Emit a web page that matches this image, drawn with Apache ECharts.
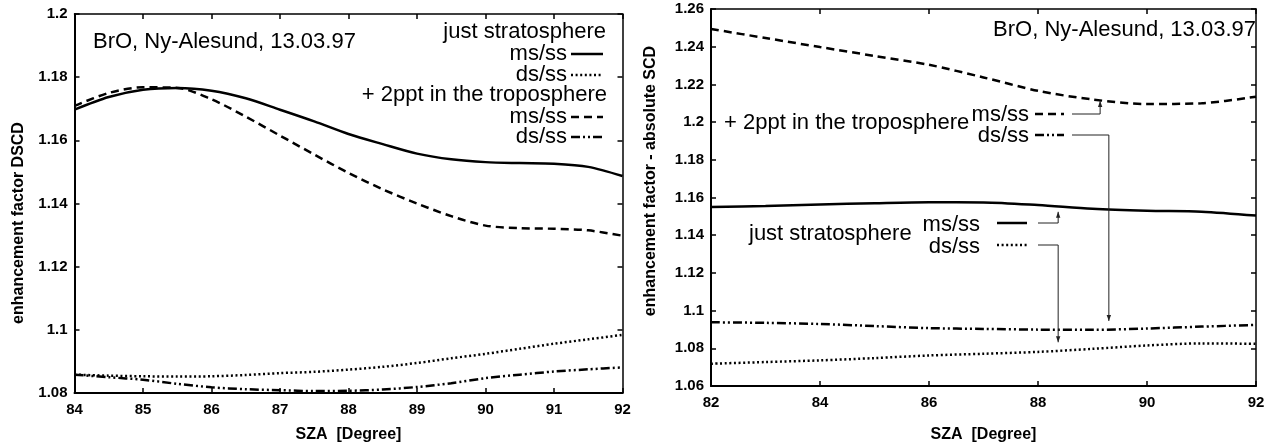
<!DOCTYPE html>
<html><head><meta charset="utf-8">
<script src="https://cdn.jsdelivr.net/npm/echarts@6/dist/echarts.min.js"></script>
<style>html,body{margin:0;padding:0;background:#fff}#c{width:1272px;height:448px}</style>
</head><body><div id="c"></div>
<script>
// ---- data: left panel (enhancement factor DSCD) ----
const szaLeft = [84, 84.5, 85, 85.5, 86, 86.5, 87, 87.5, 88, 88.5, 89, 89.5, 90, 90.5, 91, 91.5, 92];
const leftStratMs = [1.1697, 1.1737, 1.1760, 1.1766, 1.1757, 1.1733, 1.1697, 1.1660, 1.1620, 1.1588, 1.1558, 1.1540, 1.1531, 1.1528, 1.1526, 1.1516, 1.1487];
const leftStratDs = [1.0858, 1.0855, 1.0853, 1.0852, 1.0853, 1.0857, 1.0863, 1.0867, 1.0874, 1.0883, 1.0895, 1.0910, 1.0924, 1.0940, 1.0956, 1.0970, 1.0984];
const leftTropMs  = [1.1709, 1.1750, 1.1768, 1.1766, 1.1730, 1.1675, 1.1615, 1.1555, 1.1497, 1.1445, 1.1400, 1.1360, 1.1330, 1.1322, 1.1320, 1.1315, 1.1298];
const leftTropDs  = [1.0858, 1.0850, 1.0842, 1.0829, 1.0818, 1.0812, 1.0809, 1.0806, 1.0807, 1.0811, 1.0819, 1.0831, 1.0847, 1.0858, 1.0868, 1.0875, 1.0881];
// ---- data: right panel (enhancement factor - absolute SCD) ----
const szaRight = [82, 83, 84, 85, 86, 87, 88, 89, 90, 91, 92];
const rightStratMs = [1.1549, 1.1555, 1.1563, 1.1570, 1.1575, 1.1574, 1.1560, 1.1540, 1.1530, 1.1525, 1.1504];
const rightStratDs = [1.0718, 1.0727, 1.0736, 1.0748, 1.0762, 1.0771, 1.0781, 1.0797, 1.0815, 1.0826, 1.0824];
const rightTropMs  = [1.2494, 1.2446, 1.2398, 1.2351, 1.2304, 1.2237, 1.2166, 1.2120, 1.2096, 1.2100, 1.2135];
const rightTropDs  = [1.0938, 1.0935, 1.0929, 1.0918, 1.0907, 1.0903, 1.0899, 1.0898, 1.0905, 1.0915, 1.0924];
// annotation arrow targets (SZA, value) in right panel
const arrowTargets = [
  {sza: 89.14, val: 1.2112, dir: 'up'},
  {sza: 89.30, val: 1.0945, dir: 'down'},
  {sza: 88.37, val: 1.1524, dir: 'up'},
  {sza: 88.37, val: 1.0832, dir: 'down'}
];

const FF = '"Liberation Sans", Arial, Helvetica, sans-serif';
const STY = {
  solid: 'solid',
  dotted: [2, 2.6],
  dashed: [8, 5],
  dashdot: [9, 3, 2, 3, 2, 3]
};

function xAx(grid, min, max, interval, top, nameGap, labelMargin) {
  return {
    type: 'value', gridIndex: grid, min: min, max: max, interval: interval,
    position: top ? 'top' : 'bottom',
    axisLine: {onZero: false, lineStyle: {color: '#000', width: top ? 1.5 : 2}},
    axisTick: {inside: true, length: 5, lineStyle: {color: '#000', width: 1.5}},
    axisLabel: {show: !top, color: '#000', fontSize: 15, fontWeight: 'bold', fontFamily: FF, margin: labelMargin},
    splitLine: {show: false},
    name: top ? '' : 'SZA  [Degree]', nameLocation: 'middle', nameGap: nameGap,
    nameTextStyle: {color: '#000', fontSize: 16, fontWeight: 'bold', fontFamily: FF}
  };
}
function yAx(grid, min, max, interval, right) {
  return {
    type: 'value', gridIndex: grid, min: min, max: max, interval: interval,
    position: right ? 'right' : 'left',
    axisLine: {onZero: false, lineStyle: {color: '#000', width: right ? 1.5 : 2}},
    axisTick: {inside: true, length: 5, lineStyle: {color: '#000', width: 1.5}},
    axisLabel: {show: !right, color: '#000', fontSize: 15, fontWeight: 'bold', fontFamily: FF, margin: 7},
    splitLine: {show: false}
  };
}
function ser(xi, yi, xs, ys, type) {
  return {
    type: 'line', xAxisIndex: xi, yAxisIndex: yi, showSymbol: false, symbol: 'none',
    smooth: 0.3, animation: false, silent: true,
    lineStyle: {color: '#000', width: 2.5, type: type},
    data: xs.map((x, i) => [x, ys[i]])
  };
}

const chart = echarts.init(document.getElementById('c'));
chart.setOption({
  animation: false,
  backgroundColor: '#fff',
  grid: [
    {left: 74.5, right: 649.5, top: 14, bottom: 54},
    {left: 711, right: 16, top: 9, bottom: 60}
  ],
  xAxis: [
    xAx(0, 84, 92, 1, false, 34, 9),
    xAx(0, 84, 92, 1, true, 0, 0),
    xAx(1, 82, 92, 2, false, 41, 9),
    xAx(1, 82, 92, 2, true, 0, 0)
  ],
  yAxis: [
    yAx(0, 1.08, 1.2, 0.02, false),
    yAx(0, 1.08, 1.2, 0.02, true),
    yAx(1, 1.06, 1.26, 0.02, false),
    yAx(1, 1.06, 1.26, 0.02, true)
  ],
  series: [
    ser(0, 0, szaLeft, leftStratMs, STY.solid),
    ser(0, 0, szaLeft, leftStratDs, STY.dotted),
    ser(0, 0, szaLeft, leftTropMs, STY.dashed),
    ser(0, 0, szaLeft, leftTropDs, STY.dashdot),
    ser(2, 2, szaRight, rightStratMs, STY.solid),
    ser(2, 2, szaRight, rightStratDs, STY.dotted),
    ser(2, 2, szaRight, rightTropMs, STY.dashed),
    ser(2, 2, szaRight, rightTropDs, STY.dashdot)
  ]
});

const TF = '22px ' + FF;
function txt(s, x, y, align) {
  return {type: 'text', silent: true, z: 100, style: {text: s, x: x, y: y, font: TF, fill: '#000', align: align, verticalAlign: 'middle'}};
}
function ytitle(s, x, y) {
  return {type: 'text', silent: true, z: 100, x: x, y: y, rotation: Math.PI / 2,
    style: {text: s, x: 0, y: 0, font: 'bold 16px ' + FF, fill: '#000', align: 'center', verticalAlign: 'middle'}};
}
function sample(x1, x2, y, type) {
  return {type: 'line', silent: true, z: 100, shape: {x1: x1, y1: y, x2: x2, y2: y},
    style: {stroke: '#000', lineWidth: 2.5, lineDash: type === 'solid' ? null : type}};
}
const g = [];
g.push(ytitle('enhancement factor DSCD', 19, 223));
g.push(ytitle('enhancement factor - absolute SCD', 651, 181));
// left panel texts and legend
g.push(txt('BrO, Ny-Alesund, 13.03.97', 93, 42, 'left'));
g.push(txt('just stratosphere', 606, 32, 'right'));
g.push(txt('ms/ss', 567, 54, 'right'));  g.push(sample(571, 603, 54, STY.solid));
g.push(txt('ds/ss', 567, 75, 'right'));  g.push(sample(571, 603, 75, STY.dotted));
g.push(txt('+ 2ppt in the troposphere', 607, 95, 'right'));
g.push(txt('ms/ss', 567, 117, 'right')); g.push(sample(571, 603, 117, STY.dashed));
g.push(txt('ds/ss', 567, 137, 'right')); g.push(sample(571, 603, 137, STY.dashdot));
// right panel texts and legend
g.push(txt('BrO, Ny-Alesund, 13.03.97', 1256, 30, 'right'));
g.push(txt('+ 2ppt in the troposphere', 724, 123, 'left'));
g.push(txt('ms/ss', 1029, 115, 'right')); g.push(sample(1035, 1064, 114, STY.dashed));
g.push(txt('ds/ss', 1029, 136, 'right')); g.push(sample(1035, 1064, 135, STY.dashdot));
g.push(txt('just stratosphere', 749, 234, 'left'));
g.push(txt('ms/ss', 980, 225, 'right')); g.push(sample(997, 1027, 223, STY.solid));
g.push(txt('ds/ss', 980, 247, 'right')); g.push(sample(997, 1027, 245, STY.dotted));
// connectors
const connStarts = [[1072, 114], [1072, 135], [1038, 223], [1038, 245]];
arrowTargets.forEach((t, i) => {
  const p = chart.convertToPixel({xAxisIndex: 2, yAxisIndex: 2}, [t.sza, t.val]);
  const s = connStarts[i];
  g.push({type: 'polyline', silent: true, z: 100, shape: {points: [[s[0], s[1]], [p[0], s[1]], [p[0], p[1]]]},
    style: {stroke: '#222', lineWidth: 1, fill: null}});
  const d = t.dir === 'up' ? 6 : -6;
  g.push({type: 'polygon', silent: true, z: 100, shape: {points: [[p[0], p[1]], [p[0] - 2.2, p[1] + d], [p[0] + 2.2, p[1] + d]]},
    style: {fill: '#222', stroke: null}});
});
chart.setOption({graphic: g});
</script>
</body></html>
